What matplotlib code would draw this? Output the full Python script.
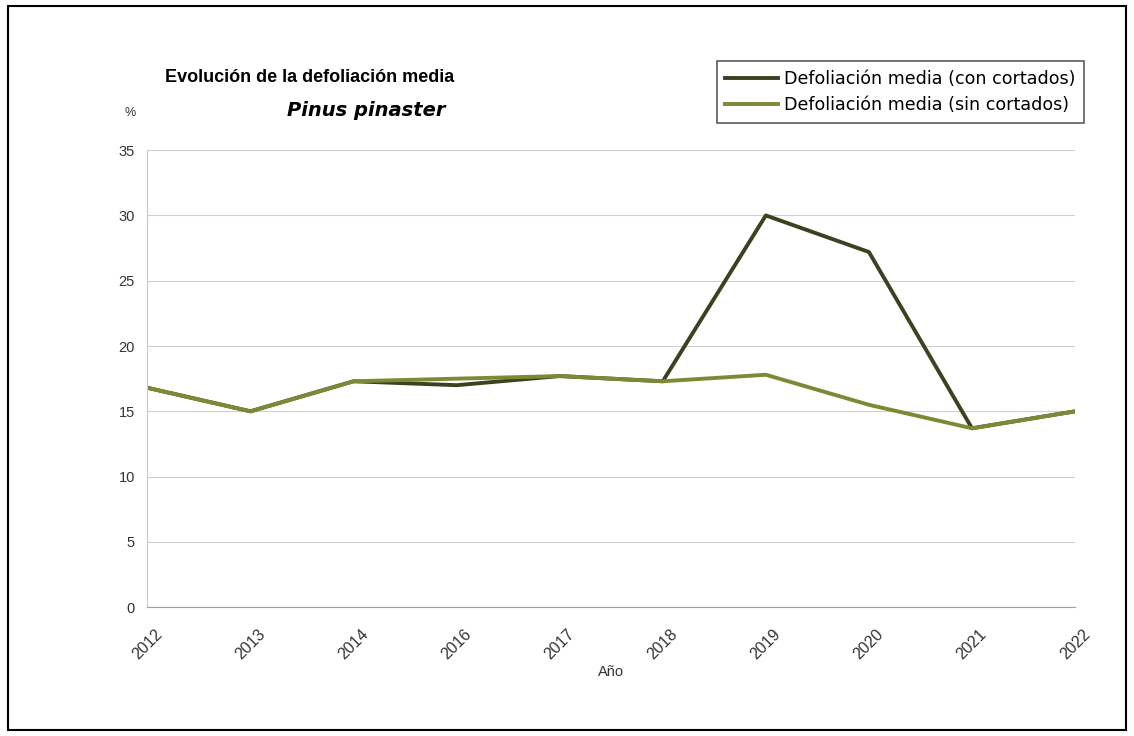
import matplotlib.pyplot as plt
from matplotlib.patches import Rectangle

plt.rcParams['font.family'] = ['Liberation Sans', 'DejaVu Sans']

# datos
anios = ['2012', '2013', '2014', '2016', '2017', '2018', '2019', '2020', '2021', '2022']
con_cortados = [16.8, 15.0, 17.3, 17.0, 17.7, 17.3, 30.0, 27.2, 13.7, 15.0]
sin_cortados = [16.8, 15.0, 17.3, 17.5, 17.7, 17.3, 17.8, 15.5, 13.7, 15.0]

fig = plt.figure(figsize=(11.34, 7.36), dpi=100)
ax = fig.add_axes([0.130, 0.175, 0.818, 0.621])

x = range(len(anios))
ax.plot(x, con_cortados, color='#3b4220', lw=2.8, label='Defoliación media (con cortados)')
ax.plot(x, sin_cortados, color='#7d8a35', lw=2.8, label='Defoliación media (sin cortados)')

ax.set_xlim(0, len(anios) - 1)
ax.set_ylim(0, 35)
ax.set_yticks(range(0, 36, 5))
ax.set_xticks(list(x))
ax.set_xticklabels(anios, rotation=45, ha='center', va='top', fontsize=11.5, color='#333333')
ax.tick_params(axis='y', labelsize=10.5, colors='#333333', length=0, pad=9)
ax.tick_params(axis='x', length=0, pad=14)
ax.grid(axis='y', color='#d0d0d0', lw=0.8)
ax.set_axisbelow(True)
for s in ['top', 'right']:
    ax.spines[s].set_visible(False)
ax.spines['left'].set_color('#c8c8c8')
ax.spines['bottom'].set_color('#a0a0a0')
ax.set_xlabel('Año', fontsize=10.5, color='#333333', labelpad=2)

fig.text(130 / 1134, 1 - 113 / 736, '%', fontsize=9, color='#333333', ha='center', va='center')
fig.text(310 / 1134, 1 - 78 / 736, 'Evolución de la defoliación media', fontsize=13,
         fontweight='bold', ha='center', va='center')
fig.text(366 / 1134, 1 - 110 / 736, 'Pinus pinaster', fontsize=14, fontweight='bold',
         style='italic', ha='center', va='center', family='DejaVu Sans')

leg = ax.legend(loc='upper right', bbox_to_anchor=(1084 / 1134, 1 - 61 / 736),
                bbox_transform=fig.transFigure, frameon=True,
                prop={'family': 'DejaVu Sans', 'size': 12.6},
                fancybox=False, edgecolor='#333333', handlelength=3.0, handletextpad=0.35,
                borderpad=0.5, labelspacing=0.5, borderaxespad=0)
leg.get_frame().set_linewidth(1.2)

fig.patches.append(Rectangle((8 / 1134, 6 / 736), 1 - 16 / 1134, 1 - 12 / 736,
                             transform=fig.transFigure, fill=False, edgecolor='black', lw=1.5))

fig.savefig('out.png', dpi=100)
